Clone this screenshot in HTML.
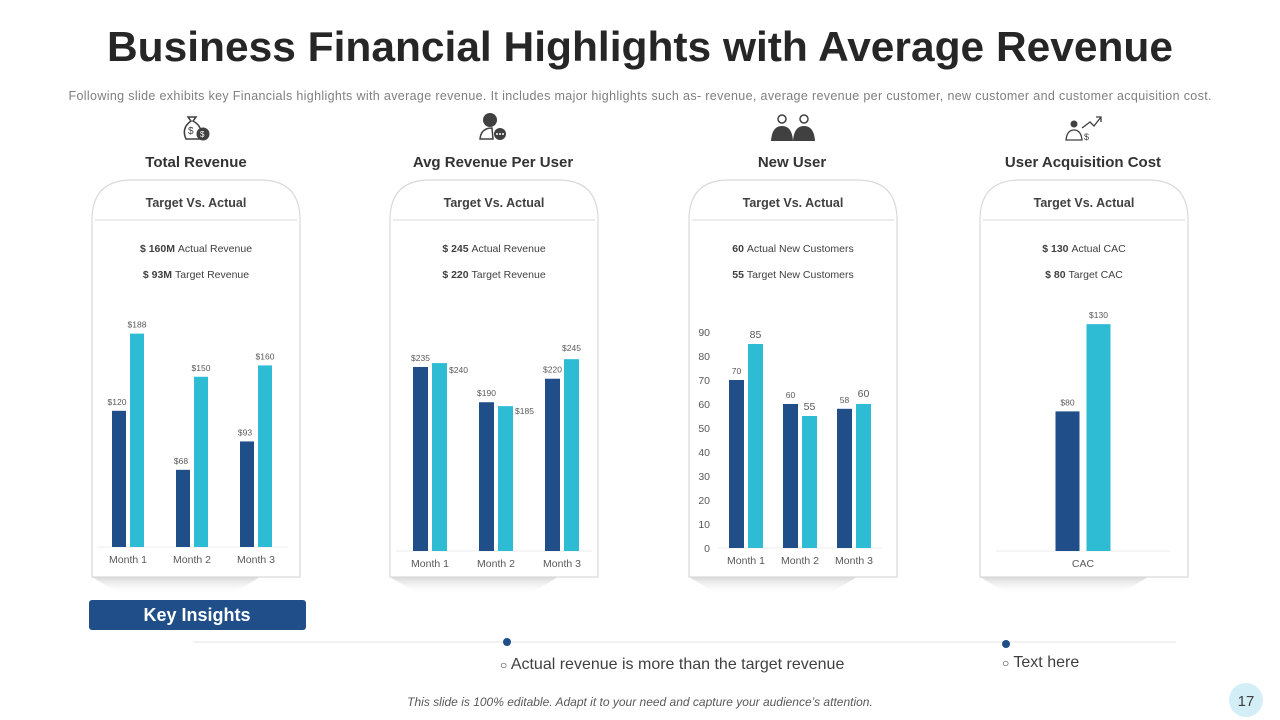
<!DOCTYPE html>
<html><head><meta charset="utf-8"><style>
body{margin:0;background:#fff;}
svg{display:block;font-family:"Liberation Sans",Arial,sans-serif;}
</style></head><body>
<svg id="s" width="1280" height="720" viewBox="0 0 1280 720">
<defs>
<linearGradient id="sh" x1="0" y1="0" x2="0" y2="1"><stop offset="0" stop-color="#d8d8d8"/><stop offset="1" stop-color="#fff" stop-opacity="0"/></linearGradient>
</defs>
<text x="640" y="61" text-anchor="middle" font-size="42" font-weight="bold" fill="#262626" textLength="1066" lengthAdjust="spacingAndGlyphs">Business Financial Highlights with Average Revenue</text>
<text x="640" y="100" text-anchor="middle" font-size="12.5" fill="#7f7f7f" textLength="1143" lengthAdjust="spacing">Following slide exhibits key Financials highlights with average  revenue. It includes major highlights such as- revenue,  average revenue  per customer, new customer and customer acquisition cost.</text>
<g id="cards"></g>
<g fill="#404040" stroke="#404040">
<path d="M188 117 L196 117 L193 121 Q204 127 200 139 L186 139 Q181 128 191 121 Z" fill="none" stroke-width="1.5"/>
<text x="188" y="134" font-size="10" stroke="none">$</text>
<circle cx="203" cy="134" r="6"/><text x="200" y="137" font-size="8" fill="#fff" stroke="none">$</text>
</g>
<g fill="#404040">
<circle cx="490" cy="120" r="7"/><path d="M480 139 Q481 128 492 128 L493 139 Z" fill="none" stroke="#404040" stroke-width="1.5"/>
<circle cx="500" cy="134" r="6"/><circle cx="497" cy="134" r="1" fill="#fff"/><circle cx="500" cy="134" r="1" fill="#fff"/><circle cx="503" cy="134" r="1" fill="#fff"/>
</g>
<g fill="#404040">
<circle cx="782" cy="119" r="4" fill="none" stroke="#404040" stroke-width="1.5"/><path d="M771 141 Q772 126 782 126 Q792 126 793 141 Z"/>
<circle cx="804" cy="119" r="4" fill="none" stroke="#404040" stroke-width="1.5"/><path d="M793 141 Q794 126 804 126 Q814 126 815 141 Z"/>
</g>
<g fill="#404040" stroke="#404040">
<circle cx="1074" cy="124" r="3.5" stroke="none"/><path d="M1066 140 Q1067 130 1074 130 Q1081 130 1082 140 Z" fill="none" stroke-width="1.3"/>
<path d="M1082 128 L1090 122 L1094 126 L1101 117 M1096 117 L1101 117 L1101 122" fill="none" stroke-width="1.3"/>
<text x="1084" y="140" font-size="9" stroke="none">$</text>
</g>
<text x="196" y="167" text-anchor="middle" font-size="15" font-weight="bold" fill="#333">Total Revenue</text>
<text x="493" y="167" text-anchor="middle" font-size="15" font-weight="bold" fill="#333">Avg Revenue Per User</text>
<text x="792" y="167" text-anchor="middle" font-size="15" font-weight="bold" fill="#333">New User</text>
<text x="1083" y="167" text-anchor="middle" font-size="15" font-weight="bold" fill="#333">User Acquisition Cost</text>
<g id="charts"></g>
<rect x="89" y="600" width="217" height="30" rx="3" fill="#1f4e89"/>
<text x="197" y="621" text-anchor="middle" font-size="18" font-weight="bold" fill="#fff">Key Insights</text>
<line x1="193" y1="642" x2="1176" y2="642" stroke="#e3e3e3"/>
<circle cx="507" cy="642" r="4" fill="#1f4e89"/>
<circle cx="1006" cy="644" r="4" fill="#1f4e89"/>
<text x="500" y="669" font-size="16" fill="#404040"><tspan font-size="12">○</tspan>  Actual revenue is more than the target revenue</text>
<text x="1002" y="667" font-size="16" fill="#404040"><tspan font-size="12">○</tspan>  Text here</text>
<text x="640" y="706" text-anchor="middle" font-size="12" font-style="italic" fill="#595959">This slide is 100% editable. Adapt it to your need and capture your audience’s attention.</text>
<circle cx="1246" cy="700" r="17" fill="#d3eef6"/>
<text x="1246" y="706" text-anchor="middle" font-size="15" fill="#404040">17</text>
</svg>
<script>
const totalCats = ["Month 1","Month 2","Month 3"];
const totalTarget = [120,68,93];
const totalActual = [188,150,160];
const arpuCats = ["Month 1","Month 2","Month 3"];
const arpuTarget = [235,190,220];
const arpuActual = [240,185,245];
const newCats = ["Month 1","Month 2","Month 3"];
const newTarget = [70,60,58];
const newActual = [85,55,60];
const newTicks = [0,10,20,30,40,50,60,70,80,90];
const cacCats = ["CAC"];
const cacTarget = [80];
const cacActual = [130];
const summaries = [["$ 160M","Actual Revenue","$ 93M","Target Revenue"],["$ 245","Actual Revenue","$ 220","Target Revenue"],["60","Actual New Customers","55","Target New Customers"],["$ 130","Actual CAC","$ 80","Target CAC"]];

const NS="http://www.w3.org/2000/svg";
function mk(tag,attrs,parent){const e=document.createElementNS(NS,tag);for(const k in attrs)e.setAttribute(k,attrs[k]);parent.appendChild(e);return e;}
const cards=document.getElementById('cards'), charts=document.getElementById('charts');
const cardX=[92,390,689,980];
cardX.forEach((x,i)=>{
  const w=208,y=180,b=577,r=40;
  const sh=mk('path',{d:`M${x} ${b} L${x+w-40} ${b} L${x+w-70} ${b+18} L${x+30} ${b+18} Z`,fill:'url(#sh)'},cards);
  
  
  const p=mk('path',{d:`M${x} ${b} L${x} ${y+r} Q${x} ${y} ${x+r} ${y} L${x+w-r} ${y} Q${x+w} ${y} ${x+w} ${y+r} L${x+w} ${b} Z`,fill:'#fff',stroke:'#d9d9d9','stroke-width':1.2},cards);
  
  
  const l=mk('line',{x1:x+3,y1:220,x2:x+w-3,y2:220,stroke:'#d9d9d9'},cards);
  
  
  const h=mk('text',{x:x+w/2,y:207,'text-anchor':'middle','font-size':12.5,'font-weight':'bold',fill:'#404040'},cards);
  h.textContent='Target Vs.  Actual';
  
  
  const s=summaries[i];
  [[s[0],s[1],252],[s[2],s[3],278]].forEach(q=>{
    const t=mk('text',{x:x+w/2,y:q[2],'text-anchor':'middle','font-size':10.5,fill:'#404040'},cards);
    const a=mk('tspan',{'font-weight':'bold'},t);a.textContent=q[0]+' ';
    const c=mk('tspan',{},t);c.textContent=q[1];
    
    
  });
});
function chart(o){
  const y=v=>o.base-v*o.scale;
  mk('line',{x1:o.ax0,y1:o.base,x2:o.ax1,y2:o.base,stroke:'#eeeeee'},charts);
  o.cats.forEach((c,i)=>{
    const cx=o.c0+i*o.step;
    const d=mk('rect',{x:cx-o.gap/2-o.bw,y:y(o.t[i]),width:o.bw,height:o.base-y(o.t[i]),fill:'#1f4e89'},charts);
    
    
    const a=mk('rect',{x:cx+o.gap/2,y:y(o.a[i]),width:o.bw,height:o.base-y(o.a[i]),fill:'#2ebcd4'},charts);
    
    
    const lt=mk('text',{x:cx-o.gap/2-o.bw/2+(o.tdx||0),y:y(o.t[i])-6,'text-anchor':'middle','font-size':8.5,fill:'#595959'},charts);
    lt.textContent=o.pre+o.t[i];
    
    
    const la=mk('text',{x:cx+o.gap/2+o.bw/2+(o.adx?o.adx[i]:0),y:y(o.a[i])-(o.ady?o.ady[i]:6),'text-anchor':'middle','font-size':o.afs||8.5,fill:'#595959'},charts);
    la.textContent=o.pre+o.a[i];
    
    
    const cl=mk('text',{x:cx,y:o.base+16,'text-anchor':'middle','font-size':10.5,fill:'#595959'},charts);
    cl.textContent=c;
    
    
  });
}
chart({cats:totalCats,t:totalTarget,a:totalActual,base:547,scale:1.135,c0:128,step:64,bw:14,gap:4,ax0:97,ax1:288,pre:'$',tdx:-2});
chart({cats:arpuCats,t:arpuTarget,a:arpuActual,base:551,scale:0.783,c0:430,step:66,bw:15,gap:4,ax0:396,ax1:592,pre:'$',adx:[19,19,0],ady:[-10,-8,8]});
chart({cats:newCats,t:newTarget,a:newActual,base:548,scale:2.4,c0:746,step:54,bw:15,gap:4,ax0:718,ax1:882,pre:'',afs:10.5,ady:[6,6,7]});
chart({cats:cacCats,t:cacTarget,a:cacActual,base:551,scale:1.745,c0:1083,step:0,bw:24,gap:7,ax0:996,ax1:1170,pre:'$'});
newTicks.forEach(v=>{
  const t=mk('text',{x:710,y:548-v*2.4+4,'text-anchor':'end','font-size':10.5,fill:'#595959'},charts);
  t.textContent=v;
  
  
});
</script>
</body></html>
